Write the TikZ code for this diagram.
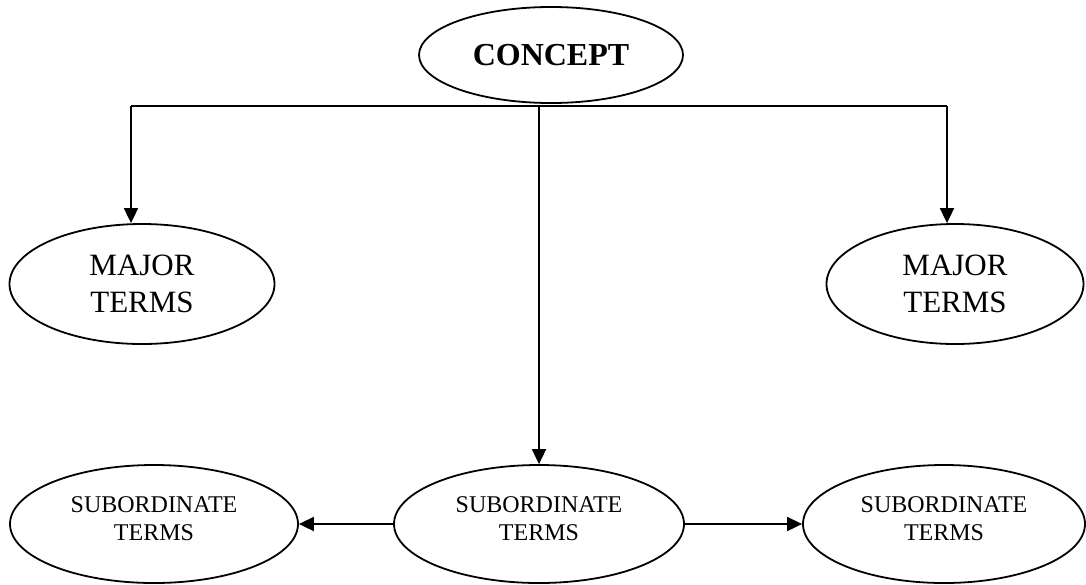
\documentclass[tikz,border=0pt]{standalone}
\usepackage{fontspec}
\setmainfont{Liberation Serif}
\usetikzlibrary{shapes.geometric,arrows.meta}
\tikzset{
    conceptnode/.style={draw,ellipse,line width=1.8pt,inner sep=0pt,
        minimum width=264pt,minimum height=96pt,align=center,
        font=\fontsize{32}{38}\selectfont\bfseries},
    majornode/.style={draw,ellipse,line width=1.8pt,inner sep=0pt,
        minimum height=120pt,align=center,font=\fontsize{31}{37}\selectfont},
    subnode/.style={draw,ellipse,line width=1.8pt,inner sep=0pt,
        minimum height=118pt,align=center,text depth=10pt,
        font=\fontsize{24}{28}\selectfont},
    arrow/.style={-{Triangle[length=15pt,width=14pt]},line width=1.8pt},
    treeline/.style={line width=1.8pt}
}
\begin{document}
\begin{tikzpicture}[x=1pt,y=-1pt]
    \useasboundingbox (0,0) rectangle (1086,584);
    % top concept
    \node[conceptnode] (concept) at (551,55) {CONCEPT};
    % major terms
    \node[majornode,minimum width=265pt] (majL) at (142,284) {MAJOR\\TERMS};
    \node[majornode,minimum width=257pt] (majR) at (955,284) {MAJOR\\TERMS};
    % subordinate terms
    \node[subnode,minimum width=288pt] (subL) at (154,524) {SUBORDINATE\\TERMS};
    \node[subnode,minimum width=290pt] (subM) at (539,524) {SUBORDINATE\\TERMS};
    \node[subnode,minimum width=282pt] (subR) at (944,524) {SUBORDINATE\\TERMS};
    % branch line under the concept
    \coordinate (hub) at (539,106);
    \coordinate (hubL) at (131,106);
    \coordinate (hubR) at (947,106);
    \draw[treeline] (hubL) -- (hubR);
    \draw[arrow] (hubL) -- (hubL |- majL.north);
    \draw[arrow] (hubR) -- (hubR |- majR.north);
    \draw[arrow] (hub) -- (subM.north);
    \draw[arrow] (subM.west) -- (subL.east);
    \draw[arrow] (subM.east) -- (subR.west);
\end{tikzpicture}
\end{document}
